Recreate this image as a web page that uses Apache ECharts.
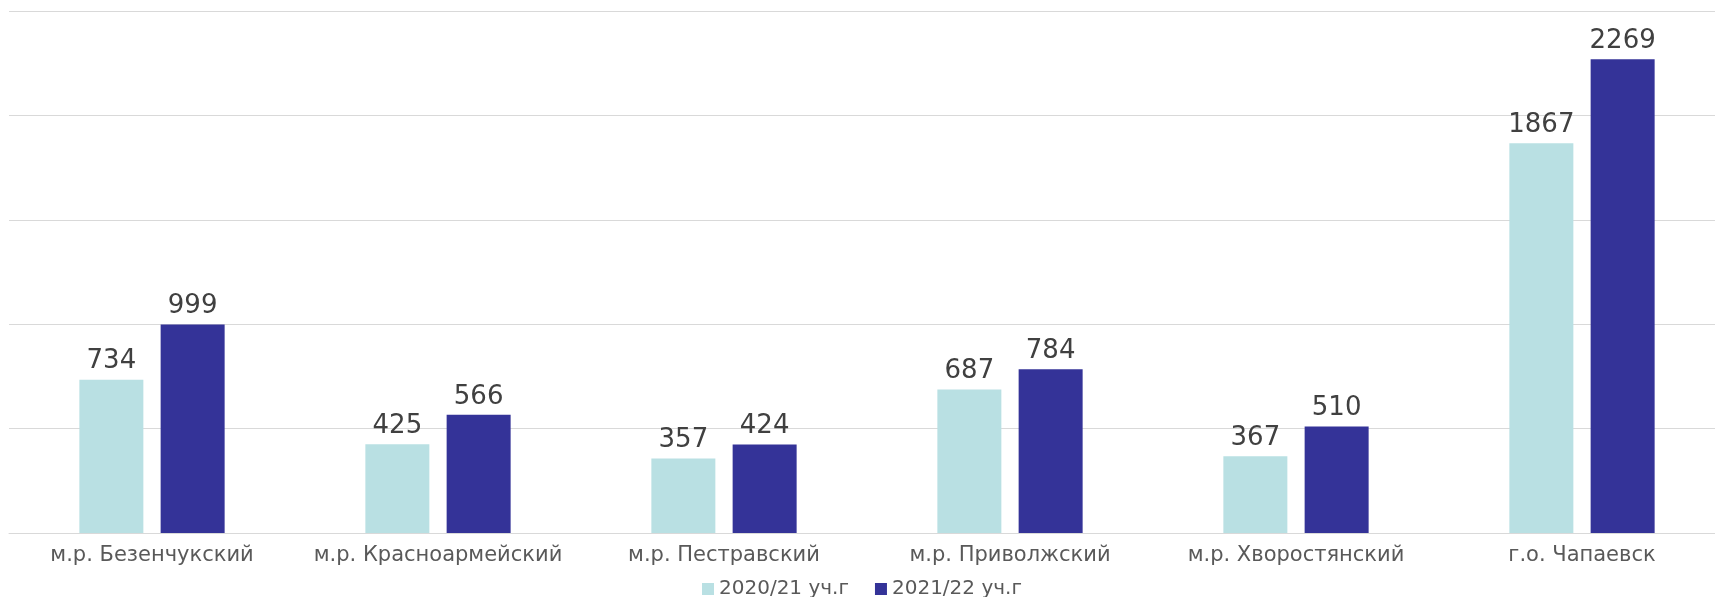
<!DOCTYPE html>
<html>
<head>
<meta charset="utf-8">
<script src="https://cdn.jsdelivr.net/npm/echarts@6/dist/echarts.min.js"></script>
<style>
  html, body { margin: 0; padding: 0; background: #fff; overflow: hidden; }
  #chart { width: 1725px; height: 597px; }
</style>
</head>
<body>
<div id="chart"></div>
<script>
// районы
const categories = ['м.р. Безенчукский', 'м.р. Красноармейский', 'м.р. Пестравский',
  'м.р. Приволжский', 'м.р. Хворостянский', 'г.о. Чапаевск'];
const seriesNames = ['2020/21 уч.г', '2021/22 уч.г'];
const values2020 = [734, 425, 357, 687, 367, 1867];
const values2021 = [999, 566, 424, 784, 510, 2269];

let myChart = echarts.init(document.getElementById('chart'));

const labelStyle = {
  show: true,
  position: 'top',
  distance: 5,
  color: '#404040',
  fontSize: 26,
  fontFamily: 'DejaVu Sans'
};

const option = {
  animation: false,
  grid: { left: 9, right: 0, top: 11, bottom: 64 },
  legend: {
    top: 574,
    left: 697,
    itemWidth: 12,
    itemHeight: 12,
    itemGap: 26,
    icon: 'rect',
    textStyle: { color: '#595959', fontSize: 20, fontFamily: 'DejaVu Sans' },
    data: seriesNames
  },
  xAxis: {
    type: 'category',
    data: categories,
    axisTick: { show: false },
    axisLine: { lineStyle: { color: '#d9d9d9', width: 1 } },
    axisLabel: { interval: 0, color: '#595959', fontSize: 21, fontFamily: 'DejaVu Sans', margin: 12 }
  },
  yAxis: {
    type: 'value',
    min: 0,
    max: 2500,
    interval: 500,
    axisLabel: { show: false },
    axisLine: { show: false },
    axisTick: { show: false },
    splitLine: { lineStyle: { color: '#d9d9d9', width: 1 } }
  },
  series: [
    {
      name: seriesNames[0],
      type: 'bar',
      data: values2020,
      barWidth: 64,
      barGap: '27%',
      itemStyle: { color: '#b9e0e3' },
      label: labelStyle
    },
    {
      name: seriesNames[1],
      type: 'bar',
      data: values2021,
      barWidth: 64,
      barGap: '27%',
      itemStyle: { color: '#343398' },
      label: labelStyle
    }
  ]
};
myChart.setOption(option);
</script>
</body>
</html>
